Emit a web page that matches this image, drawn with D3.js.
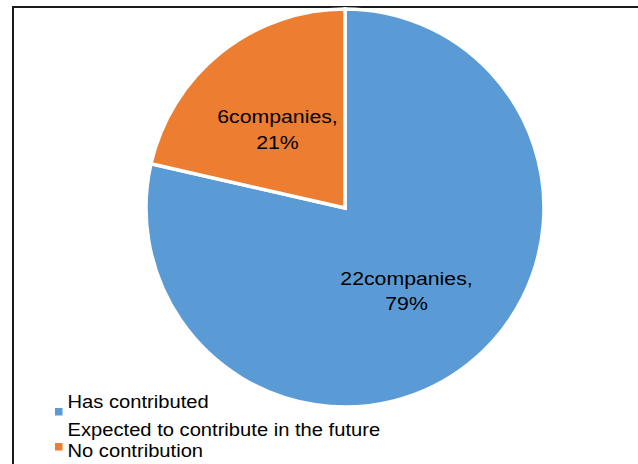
<!DOCTYPE html>
<html>
<head>
<meta charset="utf-8">
<script src="https://cdn.jsdelivr.net/npm/d3@7/dist/d3.min.js"></script>
<style>
  html, body { margin: 0; padding: 0; background: #fff; }
  svg { display: block; }
  text { font-family: "Liberation Sans", Arial, sans-serif; fill: #000; }
</style>
</head>
<body>
<svg id="chart" width="638" height="464"></svg>
<script>
// Contribution status of the surveyed companies
const categories = ["Has contributed", "Expected to contribute in the future", "No contribution"];
const counts = [22, 0, 6];
const colors = ["#5B9BD5", "#A5A5A5", "#ED7D31"];

const width = 638, height = 464;
const svg = d3.select("#chart");

// chart frame
svg.append("rect")
  .attr("x", 13).attr("y", 7)
  .attr("width", 700).attr("height", 500)
  .attr("fill", "none")
  .attr("stroke", "#1a1a1a")
  .attr("stroke-width", 2);

const cx = 345, cy = 208, radius = 199;
const total = d3.sum(counts);

const data = categories.map((c, i) => ({ category: c, value: counts[i], color: colors[i] }));

const pie = d3.pie().sort(null).value(d => d.value);
const arcs = pie(data);
const arc = d3.arc().innerRadius(0).outerRadius(radius);
const labelArc = d3.arc().innerRadius(radius * 0.52).outerRadius(radius * 0.52);

const g = svg.append("g").attr("transform", `translate(${cx},${cy})`);

g.selectAll("path.slice")
  .data(arcs.filter(d => d.data.value > 0))
  .join("path")
  .attr("class", "slice")
  .attr("d", arc)
  .attr("fill", d => d.data.color)
  .attr("stroke", "#fff")
  .attr("stroke-width", 3.5)
  .attr("stroke-linejoin", "miter");

// slice labels: count and share
const fontSize = 18.5;
const labels = g.selectAll("g.label")
  .data(arcs.filter(d => d.data.value > 0))
  .join("g")
  .attr("class", "label")
  .attr("transform", d => {
    const [x, y] = labelArc.centroid(d);
    return `translate(${x - 3},${y + 2}) scale(1.15,1)`;
  });

labels.append("text")
  .attr("text-anchor", "middle")
  .attr("font-size", fontSize)
  .attr("y", -6)
  .text(d => `${d.data.value}companies,`);

labels.append("text")
  .attr("text-anchor", "middle")
  .attr("font-size", fontSize)
  .attr("y", 19.5)
  .text(d => `${Math.round(d.data.value / total * 100)}%`);

// legend
const legendRows = [
  { text: 408, marker: 408 },
  { text: 436, marker: null },
  { text: 457, marker: 443 }
];

const legend = svg.append("g");
data.forEach((d, i) => {
  const row = legendRows[i];
  if (d.value > 0 && row.marker !== null) {
    legend.append("rect")
      .attr("x", 55).attr("y", row.marker)
      .attr("width", 7.5).attr("height", 7.5)
      .attr("fill", d.color);
  }
  legend.append("text")
    .attr("transform", `translate(67.5,${row.text}) scale(1.09,1)`)
    .attr("font-size", fontSize)
    .text(d.category);
});
</script>
</body>
</html>
